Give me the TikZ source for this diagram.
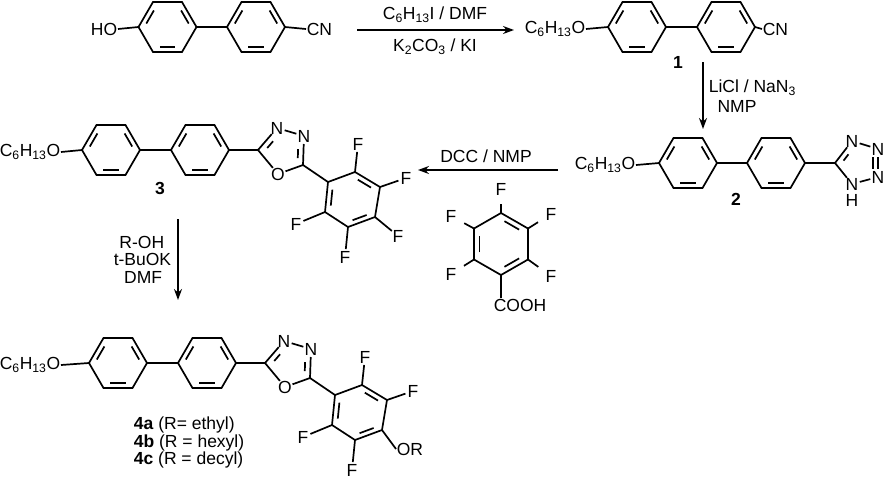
\documentclass[tikz,border=0pt]{standalone}
\usepackage{fontspec}
\setmainfont{Liberation Sans}
\usetikzlibrary{calc,arrows.meta}
\newcommand\sub[1]{\textsubscript{#1}}
\newcommand\inb[3]{\draw[shorten >=4pt, shorten <=4pt] ($(#3)!0.8!(#1)$) -- ($(#3)!0.8!(#2)$);}
\newcommand\pring[3]{%
 \coordinate (#1c) at (#2,#3);
 \coordinate (#11) at (#2+29,#3); \coordinate (#12) at (#2+14.5,#3-25);
 \coordinate (#13) at (#2-14.5,#3-25); \coordinate (#14) at (#2-29,#3);
 \coordinate (#15) at (#2-14.5,#3+25); \coordinate (#16) at (#2+14.5,#3+25);
 \draw (#11)--(#12)--(#13)--(#14)--(#15)--(#16)--cycle;
 \inb{#11}{#12}{#1c}\inb{#13}{#14}{#1c}\inb{#15}{#16}{#1c}}
\begin{document}
\begin{tikzpicture}[x=1pt,y=-1pt,line width=1.7pt,line join=miter,
 every node/.style={font=\fontsize{17.5}{20}\selectfont,inner sep=0pt},
 lbl/.style={font=\fontsize{17.5}{20}\selectfont\bfseries},
 het/.style={shorten <=8pt},
 rarrow/.style={-{Stealth[length=11pt,width=8pt]},line width=1.6pt}]
\useasboundingbox (0,0) rectangle (886,483);
% ---------- starting material ----------
\pring{a}{167.5}{27}\pring{b}{256}{27}
\draw (a1)--(b4);
\node[anchor=east] (ho) at (118,29) {HO};
\draw (ho.east)--(a4);
\node[anchor=west] (cn) at (306,29) {CN};
\draw (b1)--(cn.west);
% arrow 1
\coordinate (r1s) at (357,30); \coordinate (r1e) at (514,30);
\draw[rarrow] (r1s)--(r1e);
\node (r1a) at (435,15) {C\sub{6}H\sub{13}I / DMF};
\node (r1b) at (435,47) {K\sub{2}CO\sub{3} / KI};
% ---------- compound 1 ----------
\pring{c}{637}{27}\pring{d}{726}{27}
\draw (c1)--(d4);
\node[anchor=east] (o1) at (586,29) {C\sub{6}H\sub{13}O};
\draw (o1.east)--(c4);
\node[anchor=west] (cn1) at (762,29) {CN};
\draw (d1)--(cn1.west);
\node[lbl] (l1) at (678,62) {1};
% arrow 2
\coordinate (r2s) at (703,62); \coordinate (r2e) at (703,129);
\draw[rarrow] (r2s)--(r2e);
\node[anchor=west] (r2a) at (708,88) {LiCl / NaN\sub{3}};
\node (r2b) at (737,106) {NMP};
% ---------- compound 2 ----------
\pring{e}{688}{163}\pring{f}{776}{163}
\draw (e1)--(f4);
\node[anchor=east] (o2) at (636,165) {C\sub{6}H\sub{13}O};
\draw (o2.east)--(e4);
\coordinate (tc) at (835,163);
\coordinate (tn1) at (852,141); \coordinate (tn2) at (878,149);
\coordinate (tn3) at (878,177); \coordinate (tn4) at (852,184);
\coordinate (tcen) at (859,163);
\node at (tn1) {N};\node at (tn2) {N};\node at (tn3) {N};
\node (nh) at (852,184) {N};\node at (852,200) {H};
\draw (f1)--(tc);
\draw[het] (tn1)--(tc); \draw[het] (tn4)--(tc);
\draw[shorten <=8pt,shorten >=8pt] (tn1)--(tn2);
\draw[shorten <=8pt,shorten >=8pt] (tn2)--(tn3);
\draw[shorten <=8pt,shorten >=8pt] (tn3)--(tn4);
\draw[shorten <=3pt,shorten >=9pt] ($(tcen)!0.72!(tc)$)--($(tcen)!0.72!(tn1)$);
\draw[shorten <=8pt,shorten >=8pt] ($(tn2)+(-5,0)$)--($(tn3)+(-5,0)$);
\node[lbl] (l2) at (736,199) {2};
% arrow 3
\coordinate (r3s) at (558,170); \coordinate (r3e) at (418,170);
\draw[rarrow] (r3s)--(r3e);
\node (r3a) at (486,156) {DCC / NMP};
% pentafluorobenzoic acid
\coordinate (pc) at (501,244);
\coordinate (p1) at (501,213); \coordinate (p2) at (528,228.5);
\coordinate (p3) at (528,259.5); \coordinate (p4) at (501,275);
\coordinate (p5) at (474,259.5); \coordinate (p6) at (474,228.5);
\draw (p1)--(p2)--(p3)--(p4)--(p5)--(p6)--cycle;
\inb{p1}{p2}{pc}\inb{p3}{p4}{pc}\inb{p5}{p6}{pc}
\node (pf1) at (501,189) {F}; \node (pf2) at (551,214) {F};
\node (pf3) at (551,276) {F}; \node (pf5) at (451,274) {F};
\node (pf6) at (451,216) {F};
\node[anchor=west] (cooh) at (493,305) {COOH};
\draw[shorten >=8pt] (p1)--(pf1); \draw[shorten >=8pt] (p2)--(pf2); \draw[shorten >=8pt] (p3)--(pf3);
\draw[shorten >=8pt] (p5)--(pf5); \draw[shorten >=8pt] (p6)--(pf6);
\draw (p4)--($(cooh.north west)+(8,0)$);
% ---------- compounds 3 and 4 ----------
\foreach \dx/\dy/\sfx in {0/0/x,7/213/y}{
\begin{scope}[shift={(\dx,\dy)}]
\pring{g\sfx}{111}{150}\pring{h\sfx}{200}{150}
\draw (g\sfx1)--(h\sfx4);
\node[anchor=east] (o\sfx) at (61-\dx,152) {C\sub{6}H\sub{13}O};
\draw (o\sfx.east)--(g\sfx4);
\coordinate (xc2\sfx) at (258,150); \coordinate (xn3\sfx) at (277,128);
\coordinate (xn4\sfx) at (304,136); \coordinate (xc5\sfx) at (303,165);
\coordinate (xo\sfx) at (278,174); \coordinate (xcen\sfx) at (284,151);
\node at (xn3\sfx) {N}; \node at (xn4\sfx) {N}; \node at (xo\sfx) {O};
\draw (h\sfx1)--(xc2\sfx);
\draw[het] (xn3\sfx)--(xc2\sfx);
\draw[shorten <=8pt,shorten >=8pt] (xn3\sfx)--(xn4\sfx);
\draw[het] (xn4\sfx)--(xc5\sfx);
\draw[het] (xo\sfx)--(xc5\sfx);
\draw[het] (xo\sfx)--(xc2\sfx);
\draw[shorten <=9pt,shorten >=3pt] ($(xcen\sfx)!0.72!(xn3\sfx)$)--($(xcen\sfx)!0.72!(xc2\sfx)$);
\draw[shorten <=9pt,shorten >=3pt] ($(xcen\sfx)!0.72!(xn4\sfx)$)--($(xcen\sfx)!0.72!(xc5\sfx)$);
\coordinate (k1\sfx) at (328,182); \coordinate (k2\sfx) at (355,172);
\coordinate (k3\sfx) at (380,187); \coordinate (k4\sfx) at (375,217);
\coordinate (k5\sfx) at (348,227); \coordinate (k6\sfx) at (325,212);
\coordinate (kc\sfx) at (352,200);
\draw (xc5\sfx)--(k1\sfx);
\draw (k1\sfx)--(k2\sfx)--(k3\sfx)--(k4\sfx)--(k5\sfx)--(k6\sfx)--cycle;
\inb{k2\sfx}{k3\sfx}{kc\sfx}\inb{k4\sfx}{k5\sfx}{kc\sfx}\inb{k6\sfx}{k1\sfx}{kc\sfx}
\node (f2\sfx) at (358,144) {F}; \node (f3\sfx) at (406,178) {F};
\node (f5\sfx) at (345,257) {F}; \node (f6\sfx) at (296,224) {F};
\draw[het] (f2\sfx.center)--(k2\sfx); \draw[het] (f3\sfx.center)--(k3\sfx);
\draw[het] (f5\sfx.center)--(k5\sfx); \draw[het] (f6\sfx.center)--(k6\sfx);
\end{scope}}
\node (f4x) at (398,236) {F}; \draw[het] (f4x.center)--(k4x);
\node[anchor=west] (ory) at (396,449) {OR}; \draw (k4y)--(ory.west);
\node[lbl] (l3) at (160,188) {3};
% arrow 4
\coordinate (r4s) at (178,219); \coordinate (r4e) at (178,300);
\draw[rarrow] (r4s)--(r4e);
\node[anchor=east] (r4a) at (165,242) {R-OH};
\node[anchor=east] (r4b) at (172,259) {t-BuOK};
\node[anchor=east] (r4c) at (163,277) {DMF};
\node[anchor=west] (l4a) at (133,425) {\textbf{4a} (R= ethyl)};
\node[anchor=west] (l4b) at (133,443) {\textbf{4b} (R = hexyl)};
\node[anchor=west] (l4c) at (133,460) {\textbf{4c} (R = decyl)};
\end{tikzpicture}
\end{document}
